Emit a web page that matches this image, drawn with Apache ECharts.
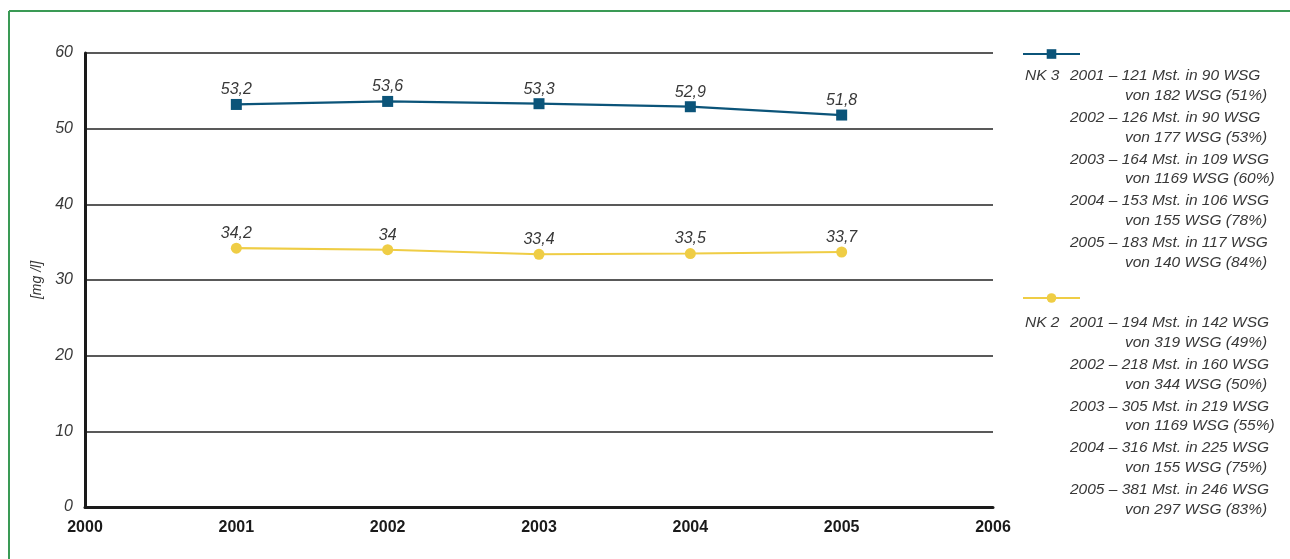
<!DOCTYPE html>
<html>
<head>
<meta charset="utf-8">
<script src="https://cdn.jsdelivr.net/npm/echarts@6/dist/echarts.min.js"></script>
<style>
html,body{margin:0;padding:0;background:#fff;}
#chart{width:1290px;height:559px;}
</style>
</head>
<body>
<div id="chart"></div>
<script>
const years = [2001, 2002, 2003, 2004, 2005];
const nk3 = [53.2, 53.6, 53.3, 52.9, 51.8];
const nk2 = [34.2, 34, 33.4, 33.5, 33.7];
const xTicks = [2000, 2006];
const yTicks = [0, 60, 10];
const nk3Notes = [
  ['2001 – 121 Mst. in 90 WSG', 'von 182 WSG (51%)'],
  ['2002 – 126 Mst. in 90 WSG', 'von 177 WSG (53%)'],
  ['2003 – 164 Mst. in 109 WSG', 'von 1169 WSG (60%)'],
  ['2004 – 153 Mst. in 106 WSG', 'von 155 WSG (78%)'],
  ['2005 – 183 Mst. in 117 WSG', 'von 140 WSG (84%)']
];
const nk2Notes = [
  ['2001 – 194 Mst. in 142 WSG', 'von 319 WSG (49%)'],
  ['2002 – 218 Mst. in 160 WSG', 'von 344 WSG (50%)'],
  ['2003 – 305 Mst. in 219 WSG', 'von 1169 WSG (55%)'],
  ['2004 – 316 Mst. in 225 WSG', 'von 155 WSG (75%)'],
  ['2005 – 381 Mst. in 246 WSG', 'von 297 WSG (83%)']
];

const FONT = '"Liberation Sans", Arial, Helvetica, sans-serif';
const BLUE = '#0b5479';
const YELLOW = '#efcd45';
const TXT = '#383838';

function fmt(v){ return String(v).replace('.', ','); }

function noteGraphics(label, notes, top){
  const els = [];
  els.push({type:'text', left:1025, top: top, style:{text: label, font: 'italic 15.5px ' + FONT, fill: TXT}});
  notes.forEach((p, i) => {
    const y = top + i * 41.7;
    els.push({type:'text', left:1070, top: y, style:{text: p[0], font: 'italic 15.5px ' + FONT, fill: TXT}});
    els.push({type:'text', left:1125, top: y + 19.5, style:{text: p[1], font: 'italic 15.5px ' + FONT, fill: TXT}});
  });
  return els;
}

const chart = echarts.init(document.getElementById('chart'));
const labelStyle = {
  show: true, position: 'top', distance: 1,
  fontFamily: FONT, fontStyle: 'italic', fontSize: 16, color: TXT,
  formatter: p => fmt(p.value[1])
};
chart.setOption({
  animation: false,
  backgroundColor: '#fff',
  grid: {left: 85, right: 297, top: 53, bottom: 52, containLabel: false},
  legend: [
    {data: ['NK 3'], left: 1022, top: 48, itemWidth: 57, itemHeight: 12, formatter: () => '', selectedMode: false, padding: 0},
    {data: ['NK 2'], left: 1022, top: 292, itemWidth: 57, itemHeight: 12, formatter: () => '', selectedMode: false, padding: 0}
  ],
  xAxis: {
    type: 'value', min: xTicks[0], max: xTicks[1], interval: 1,
    axisLine: {show: true, onZero: false, lineStyle: {color: '#1a1a1a', width: 3}},
    axisTick: {show: false},
    splitLine: {show: false},
    axisLabel: {margin: 13, fontFamily: FONT, fontWeight: 'bold', fontSize: 16, color: '#1a1a1a', formatter: v => String(v)}
  },
  yAxis: {
    type: 'value', min: yTicks[0], max: yTicks[1], interval: yTicks[2],
    name: '[mg /l]', nameLocation: 'middle', nameGap: 40, nameRotate: 90,
    nameTextStyle: {fontFamily: FONT, fontStyle: 'italic', fontSize: 14, color: TXT},
    axisLine: {show: true, lineStyle: {color: '#1a1a1a', width: 3}},
    axisTick: {show: false},
    splitLine: {show: true, lineStyle: {color: '#222', width: 1.5}},
    axisLabel: {margin: 12, fontFamily: FONT, fontStyle: 'italic', fontSize: 16, color: TXT}
  },
  graphic: [
    {type: 'line', shape: {x1: 9, y1: 11, x2: 1290, y2: 11}, style: {stroke: '#3a9a55', lineWidth: 2}},
    {type: 'line', shape: {x1: 9, y1: 11, x2: 9, y2: 559}, style: {stroke: '#3a9a55', lineWidth: 2}},
    ...noteGraphics('NK 3', nk3Notes, 68),
    ...noteGraphics('NK 2', nk2Notes, 315)
  ],
  series: [
    {
      name: 'NK 3', type: 'line', data: years.map((y, i) => [y, nk3[i]]),
      symbol: 'rect', symbolSize: 11, color: BLUE,
      lineStyle: {color: BLUE, width: 2.2}, itemStyle: {color: BLUE},
      label: labelStyle
    },
    {
      name: 'NK 2', type: 'line', data: years.map((y, i) => [y, nk2[i]]),
      symbol: 'circle', symbolSize: 11, color: YELLOW,
      lineStyle: {color: YELLOW, width: 2.2}, itemStyle: {color: YELLOW},
      label: labelStyle
    }
  ]
});
</script>
</body>
</html>
